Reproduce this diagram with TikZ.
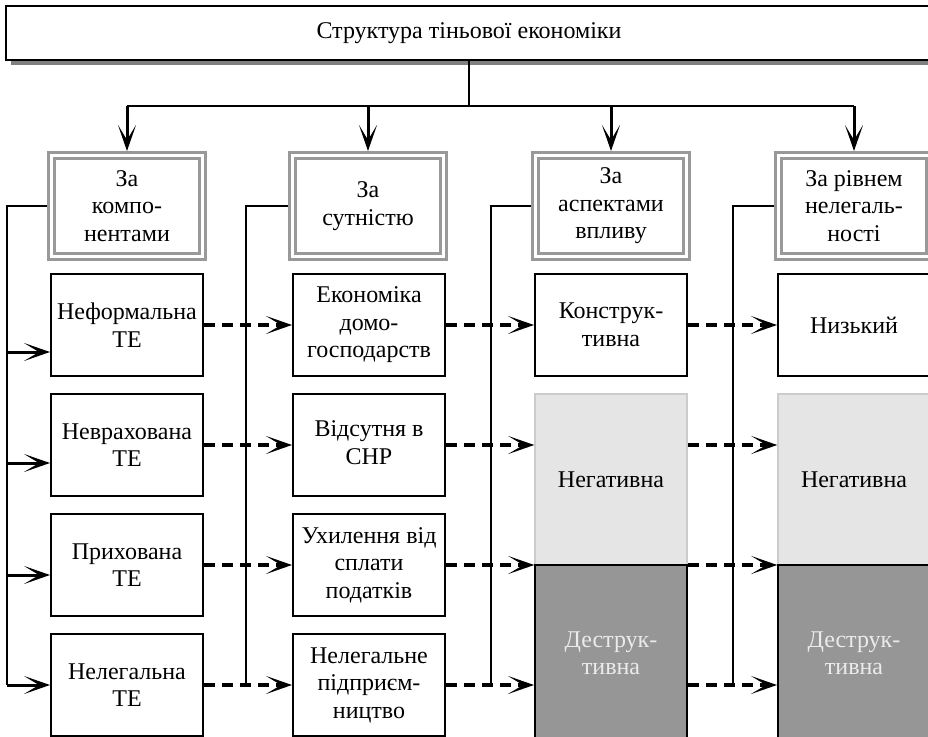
\documentclass[tikz,border=0pt]{standalone}
\usepackage{fontspec}
\setmainfont{Liberation Serif}
\usepackage{tikz}
\usetikzlibrary{arrows.meta, calc, shadows}

\begin{document}
\begin{tikzpicture}[x=1pt, y=-1pt,
  every node/.style={font=\fontsize{24}{27.5}\selectfont, align=center},
  tip/.style={-{Stealth[length=26pt, width=18pt, inset=15pt]}},
  topbox/.style={draw, line width=2.5pt, fill=white, minimum width=926pt, minimum height=54pt, inner sep=0pt,
    drop shadow={shadow xshift=5pt, shadow yshift=-5pt, fill=black!50, opacity=1}},
  headbox/.style={draw=black!40, line width=3pt, double=white, double distance=3pt,
    minimum width=151pt, minimum height=101pt, inner sep=0pt, outer sep=4.5pt},
  itembox/.style={draw, line width=2pt, fill=white, minimum width=152pt, minimum height=102pt, inner sep=0pt},
  negbox/.style={draw=black!20, line width=1.5pt, fill=black!10, minimum width=152pt, minimum height=171pt, inner sep=0pt},
  desbox/.style={draw, line width=2pt, fill=black!41, text=black!8, minimum width=152pt, minimum height=176pt, inner sep=0pt},
  link/.style={line width=2pt},
  inarrow/.style={tip, line width=3pt},
  dasharrow/.style={tip, line width=3.5pt, dash pattern=on 11pt off 7pt}
]
\useasboundingbox (0,0) rectangle (928,736);

% title
\node[topbox] (title) at (469,33) {Структура тіньової економіки};
\coordinate (bus) at (469,106);

% headers
\node[headbox] (hA) at (127,206) {За\\компо-\\нентами};
\node[headbox] (hB) at (368,206) {За\\сутністю};
\node[headbox] (hC) at (611,206) {За\\аспектами\\впливу};
\node[headbox] (hD) at (854,206) {За рівнем\\нелегаль-\\ності};

% first column
\node[itembox] (a1) at (127,325) {Неформальна\\ТЕ};
\node[itembox] (a2) at (127,445) {Неврахована\\ТЕ};
\node[itembox] (a3) at (127,565) {Прихована\\ТЕ};
\node[itembox] (a4) at (127,685) {Нелегальна\\ТЕ};

% second column
\node[itembox] (b1) at (369,325) {Економіка\\домо-\\господарств};
\node[itembox] (b2) at (369,445) {\raisebox{12pt}{\begin{tabular}{@{}c@{}}Відсутня в\\СНР\end{tabular}}};
\node[itembox] (b3) at (369,565) {Ухилення від\\сплати\\податків};
\node[itembox] (b4) at (369,685) {Нелегальне\\підприєм-\\ництво};

% third and fourth columns
\node[itembox] (c1) at (611,325) {Конструк-\\тивна};
\node[negbox] (cN) at (611,479.5) {Негативна};
\node[desbox] (cD) at (611,653) {Деструк-\\тивна};
\node[itembox] (d1) at (854,325) {Низький};
\node[negbox] (dN) at (854,479.5) {Негативна};
\node[desbox] (dD) at (854,653) {Деструк-\\тивна};

% from title to headers
\draw[link] (title.south) -- (bus);
\draw[link] (hA.north |- bus) -- (hD.north |- bus);
\foreach \h in {hA,hB,hC,hD}
  \draw[inarrow] (\h.north |- bus) -- (\h.north);

% side lines
\coordinate (tA) at (7,206);
\coordinate (tB) at (246,206);
\coordinate (tC) at (491,206);
\coordinate (tD) at (733,206);
\foreach \h/\t in {hA/tA,hB/tB,hC/tC,hD/tD}
  \draw[link] (\h.west) -- (\t) -- (\t |- a4.east);

\foreach \r/\d in {1/27,2/18,3/10,4/0} {
  \coordinate (in\r) at ($(a\r.west)+(0,\d)$);
  \draw[inarrow] (tA |- in\r) -- (in\r);
}

% dashed links
\foreach \r in {1,...,4}
  \draw[dasharrow] (a\r.east) -- (b\r.west);
\draw[dasharrow] (b1.east) -- (c1.west);
\draw[dasharrow] (b2.east) -- (cN.west |- b2.east);
\draw[dasharrow] (b3.east) -- (cN.west |- b3.east);
\draw[dasharrow] (b4.east) -- (cD.west |- b4.east);
\draw[dasharrow] (c1.east) -- (d1.west);
\draw[dasharrow] (cN.east |- b2.east) -- (dN.west |- b2.east);
\draw[dasharrow] (cN.east |- b3.east) -- (dN.west |- b3.east);
\draw[dasharrow] (cD.east |- b4.east) -- (dD.west |- b4.east);
\end{tikzpicture}
\end{document}
